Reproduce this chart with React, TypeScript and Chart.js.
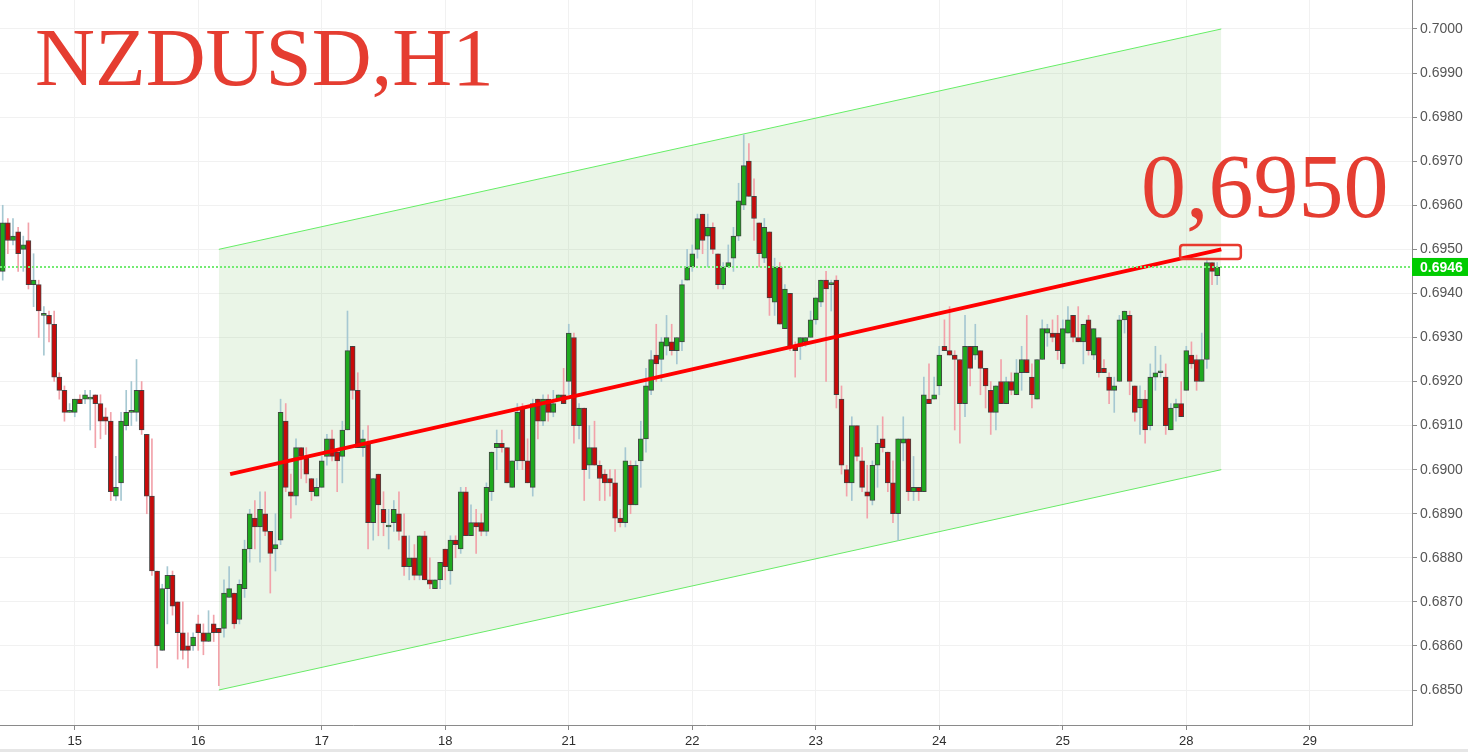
import React, { useEffect, useRef } from 'react';
import { Chart, registerables } from 'chart.js';

Chart.register(...registerables);

// Hourly candles, index 0 = 14th 10:00 (hour positions on the x axis)
const opens = [
  0.6945, 0.6956, 0.6952, 0.6954, 0.6950, 0.6952, 0.6942, 0.6942, 0.6935, 0.6935,
  0.6933, 0.6921, 0.6918, 0.6913, 0.6913, 0.6916, 0.6916, 0.6916, 0.6917, 0.6915,
  0.6912, 0.6911, 0.6894, 0.6897, 0.6910, 0.6913, 0.6913, 0.6918, 0.6908, 0.6894,
  0.6877, 0.6859, 0.6873, 0.6876, 0.6870, 0.6863, 0.6860, 0.6860, 0.6865, 0.6863,
  0.6861, 0.6865, 0.6864, 0.6864, 0.6871, 0.6872, 0.6866, 0.6873, 0.6882, 0.6889,
  0.6887, 0.6890, 0.6886, 0.6882, 0.6884, 0.6911, 0.6895, 0.6894, 0.6905, 0.6903,
  0.6898, 0.6894, 0.6896, 0.6903, 0.6907, 0.6904, 0.6903, 0.6909, 0.6928, 0.6918,
  0.6905, 0.6906, 0.6888, 0.6899, 0.6891, 0.6887, 0.6888, 0.6890, 0.6885, 0.6878,
  0.6880, 0.6876, 0.6885, 0.6875, 0.6873, 0.6875, 0.6882, 0.6877, 0.6884, 0.6882,
  0.6895, 0.6885, 0.6888, 0.6888, 0.6886, 0.6895, 0.6905, 0.6906, 0.6905, 0.6896,
  0.6902, 0.6914, 0.6902, 0.6896, 0.6916, 0.6911, 0.6916, 0.6913, 0.6916, 0.6917,
  0.6920, 0.6930, 0.6910, 0.6914, 0.6901, 0.6905, 0.6901, 0.6899, 0.6898, 0.6897,
  0.6889, 0.6888, 0.6901, 0.6892, 0.6902, 0.6907, 0.6918, 0.6926, 0.6925, 0.6928,
  0.6929, 0.6927, 0.6929, 0.6943, 0.6946, 0.6950, 0.6958, 0.6953, 0.6955, 0.6949,
  0.6942, 0.6946, 0.6948, 0.6953, 0.6960, 0.6970, 0.6962, 0.6956, 0.6948, 0.6954,
  0.6938, 0.6946, 0.6932, 0.6940, 0.6928, 0.6928, 0.6929, 0.6930, 0.6934, 0.6938,
  0.6943, 0.6942, 0.6943, 0.6916, 0.6900, 0.6897, 0.6910, 0.6902, 0.6895, 0.6893,
  0.6901, 0.6907, 0.6904, 0.6897, 0.6890, 0.6906, 0.6907, 0.6895, 0.6896, 0.6895,
  0.6916, 0.6916, 0.6919, 0.6928, 0.6927, 0.6926, 0.6925, 0.6915, 0.6928, 0.6926,
  0.6927, 0.6923, 0.6918, 0.6913, 0.6920, 0.6915, 0.6920, 0.6917, 0.6922, 0.6925,
  0.6921, 0.6916, 0.6925, 0.6931, 0.6931, 0.6931, 0.6924, 0.6931, 0.6935, 0.6930,
  0.6929, 0.6934, 0.6926, 0.6930, 0.6923, 0.6921, 0.6918, 0.6920, 0.6934, 0.6935,
  0.6919, 0.6914, 0.6916, 0.6910, 0.6921, 0.6922, 0.6921, 0.6909, 0.6914, 0.6915,
  0.6918, 0.6926, 0.6925, 0.6920, 0.6925, 0.6947, 0.6944,
];
const highs = [
  0.6960, 0.6957, 0.6957, 0.6955, 0.6953, 0.6956, 0.6949, 0.6943, 0.6937, 0.6936,
  0.6936, 0.6922, 0.6919, 0.6915, 0.6916, 0.6917, 0.6918, 0.6918, 0.6917, 0.6917,
  0.6914, 0.6913, 0.6903, 0.6913, 0.6918, 0.6920, 0.6925, 0.6920, 0.6908, 0.6907,
  0.6877, 0.6874, 0.6878, 0.6877, 0.6870, 0.6870, 0.6863, 0.6863, 0.6867, 0.6865,
  0.6868, 0.6867, 0.6864, 0.6875, 0.6878, 0.6872, 0.6875, 0.6884, 0.6891, 0.6893,
  0.6895, 0.6895, 0.6886, 0.6890, 0.6916, 0.6915, 0.6899, 0.6907, 0.6905, 0.6905,
  0.6898, 0.6898, 0.6903, 0.6908, 0.6909, 0.6904, 0.6911, 0.6936, 0.6928, 0.6922,
  0.6909, 0.6910, 0.6898, 0.6899, 0.6895, 0.6891, 0.6893, 0.6895, 0.6890, 0.6885,
  0.6883, 0.6885, 0.6886, 0.6880, 0.6875, 0.6879, 0.6882, 0.6885, 0.6885, 0.6896,
  0.6896, 0.6892, 0.6891, 0.6890, 0.6897, 0.6904, 0.6909, 0.6909, 0.6905, 0.6902,
  0.6915, 0.6915, 0.6907, 0.6916, 0.6916, 0.6917, 0.6917, 0.6918, 0.6917, 0.6923,
  0.6933, 0.6931, 0.6915, 0.6914, 0.6910, 0.6911, 0.6902, 0.6900, 0.6900, 0.6900,
  0.6891, 0.6905, 0.6902, 0.6902, 0.6911, 0.6923, 0.6927, 0.6933, 0.6930, 0.6935,
  0.6933, 0.6930, 0.6943, 0.6950, 0.6951, 0.6958, 0.6958, 0.6958, 0.6956, 0.6949,
  0.6947, 0.6951, 0.6955, 0.6965, 0.6976, 0.6974, 0.6966, 0.6956, 0.6957, 0.6954,
  0.6948, 0.6947, 0.6942, 0.6940, 0.6929, 0.6930, 0.6930, 0.6936, 0.6939, 0.6943,
  0.6945, 0.6943, 0.6944, 0.6919, 0.6901, 0.6912, 0.6910, 0.6905, 0.6901, 0.6902,
  0.6910, 0.6912, 0.6904, 0.6902, 0.6907, 0.6912, 0.6907, 0.6903, 0.6896, 0.6921,
  0.6924, 0.6921, 0.6928, 0.6934, 0.6937, 0.6927, 0.6925, 0.6935, 0.6928, 0.6933,
  0.6927, 0.6923, 0.6920, 0.6919, 0.6925, 0.6921, 0.6922, 0.6925, 0.6928, 0.6935,
  0.6924, 0.6925, 0.6934, 0.6933, 0.6934, 0.6935, 0.6934, 0.6937, 0.6935, 0.6937,
  0.6933, 0.6935, 0.6932, 0.6930, 0.6925, 0.6922, 0.6921, 0.6935, 0.6936, 0.6936,
  0.6919, 0.6919, 0.6918, 0.6924, 0.6928, 0.6926, 0.6924, 0.6915, 0.6916, 0.6920,
  0.6928, 0.6929, 0.6926, 0.6931, 0.6948, 0.6947, 0.6947,
];
const lows = [
  0.6943, 0.6949, 0.6951, 0.6945, 0.6945, 0.6941, 0.6937, 0.6930, 0.6926, 0.6929,
  0.6920, 0.6916, 0.6911, 0.6913, 0.6912, 0.6915, 0.6915, 0.6909, 0.6905, 0.6907,
  0.6908, 0.6893, 0.6893, 0.6893, 0.6909, 0.6910, 0.6911, 0.6908, 0.6890, 0.6876,
  0.6855, 0.6859, 0.6865, 0.6867, 0.6857, 0.6857, 0.6855, 0.6859, 0.6859, 0.6858,
  0.6861, 0.6861, 0.6851, 0.6862, 0.6871, 0.6864, 0.6865, 0.6871, 0.6879, 0.6882,
  0.6879, 0.6885, 0.6872, 0.6877, 0.6883, 0.6895, 0.6889, 0.6892, 0.6898, 0.6897,
  0.6893, 0.6894, 0.6896, 0.6901, 0.6902, 0.6895, 0.6897, 0.6909, 0.6916, 0.6905,
  0.6903, 0.6882, 0.6884, 0.6885, 0.6885, 0.6882, 0.6886, 0.6884, 0.6876, 0.6875,
  0.6875, 0.6875, 0.6875, 0.6873, 0.6873, 0.6873, 0.6875, 0.6874, 0.6880, 0.6881,
  0.6885, 0.6885, 0.6881, 0.6885, 0.6885, 0.6893, 0.6900, 0.6904, 0.6897, 0.6896,
  0.6900, 0.6900, 0.6897, 0.6894, 0.6907, 0.6910, 0.6911, 0.6912, 0.6916, 0.6915,
  0.6917, 0.6906, 0.6907, 0.6893, 0.6898, 0.6901, 0.6893, 0.6893, 0.6894, 0.6886,
  0.6887, 0.6887, 0.6890, 0.6892, 0.6896, 0.6904, 0.6917, 0.6920, 0.6920, 0.6926,
  0.6926, 0.6924, 0.6927, 0.6943, 0.6945, 0.6948, 0.6949, 0.6946, 0.6949, 0.6941,
  0.6941, 0.6946, 0.6945, 0.6952, 0.6959, 0.6962, 0.6952, 0.6946, 0.6947, 0.6935,
  0.6935, 0.6933, 0.6932, 0.6927, 0.6921, 0.6925, 0.6928, 0.6930, 0.6933, 0.6937,
  0.6920, 0.6936, 0.6914, 0.6899, 0.6894, 0.6893, 0.6902, 0.6895, 0.6889, 0.6892,
  0.6896, 0.6904, 0.6895, 0.6888, 0.6884, 0.6902, 0.6893, 0.6893, 0.6893, 0.6895,
  0.6915, 0.6916, 0.6917, 0.6927, 0.6926, 0.6909, 0.6906, 0.6912, 0.6919, 0.6925,
  0.6917, 0.6914, 0.6908, 0.6909, 0.6915, 0.6915, 0.6917, 0.6917, 0.6918, 0.6922,
  0.6914, 0.6916, 0.6925, 0.6928, 0.6929, 0.6925, 0.6923, 0.6931, 0.6929, 0.6929,
  0.6924, 0.6926, 0.6925, 0.6921, 0.6922, 0.6915, 0.6913, 0.6920, 0.6931, 0.6917,
  0.6911, 0.6908, 0.6906, 0.6909, 0.6918, 0.6921, 0.6908, 0.6909, 0.6911, 0.6912,
  0.6918, 0.6923, 0.6918, 0.6920, 0.6923, 0.6942, 0.6942,
];
const closes = [
  0.6956, 0.6952, 0.6953, 0.6949, 0.6951, 0.6942, 0.6943, 0.6936, 0.6935, 0.6933,
  0.6921, 0.6918, 0.6913, 0.6913, 0.6916, 0.6915, 0.6917, 0.6916, 0.6915, 0.6911,
  0.6911, 0.6895, 0.6896, 0.6911, 0.6913, 0.6913, 0.6918, 0.6909, 0.6894, 0.6877,
  0.6860, 0.6873, 0.6876, 0.6869, 0.6863, 0.6859, 0.6859, 0.6862, 0.6863, 0.6861,
  0.6863, 0.6863, 0.6863, 0.6872, 0.6873, 0.6865, 0.6874, 0.6882, 0.6890, 0.6887,
  0.6891, 0.6886, 0.6881, 0.6883, 0.6913, 0.6896, 0.6894, 0.6905, 0.6903, 0.6899,
  0.6895, 0.6896, 0.6902, 0.6907, 0.6903, 0.6902, 0.6909, 0.6927, 0.6918, 0.6905,
  0.6907, 0.6888, 0.6898, 0.6892, 0.6888, 0.6887, 0.6891, 0.6886, 0.6878, 0.6880,
  0.6876, 0.6885, 0.6875, 0.6874, 0.6875, 0.6879, 0.6878, 0.6884, 0.6883, 0.6895,
  0.6885, 0.6888, 0.6887, 0.6886, 0.6896, 0.6904, 0.6906, 0.6905, 0.6897, 0.6902,
  0.6913, 0.6902, 0.6897, 0.6915, 0.6911, 0.6916, 0.6913, 0.6915, 0.6917, 0.6915,
  0.6931, 0.6910, 0.6914, 0.6900, 0.6905, 0.6901, 0.6898, 0.6897, 0.6897, 0.6889,
  0.6888, 0.6902, 0.6892, 0.6901, 0.6907, 0.6919, 0.6925, 0.6924, 0.6929, 0.6930,
  0.6927, 0.6930, 0.6942, 0.6946, 0.6949, 0.6957, 0.6952, 0.6955, 0.6950, 0.6942,
  0.6946, 0.6947, 0.6953, 0.6961, 0.6969, 0.6962, 0.6957, 0.6949, 0.6955, 0.6939,
  0.6946, 0.6933, 0.6941, 0.6928, 0.6927, 0.6930, 0.6930, 0.6934, 0.6939, 0.6943,
  0.6941, 0.6942, 0.6917, 0.6901, 0.6897, 0.6910, 0.6903, 0.6896, 0.6894, 0.6901,
  0.6906, 0.6905, 0.6897, 0.6890, 0.6907, 0.6907, 0.6895, 0.6896, 0.6895, 0.6917,
  0.6915, 0.6917, 0.6926, 0.6927, 0.6926, 0.6925, 0.6915, 0.6928, 0.6923, 0.6928,
  0.6923, 0.6919, 0.6913, 0.6919, 0.6915, 0.6920, 0.6918, 0.6922, 0.6925, 0.6922,
  0.6917, 0.6925, 0.6932, 0.6932, 0.6930, 0.6927, 0.6932, 0.6934, 0.6930, 0.6929,
  0.6933, 0.6927, 0.6932, 0.6922, 0.6922, 0.6918, 0.6919, 0.6934, 0.6936, 0.6920,
  0.6913, 0.6916, 0.6909, 0.6921, 0.6922, 0.6922, 0.6910, 0.6914, 0.6915, 0.6912,
  0.6927, 0.6924, 0.6920, 0.6925, 0.6947, 0.6945, 0.6946,
];

// x axis: day labels placed at midnight hour index
const dayTickIndex = [14, 38, 62, 86, 110, 134, 158, 182, 206, 230, 254];
const dayTickLabels = ['15', '16', '17', '18', '21', '22', '23', '24', '25', '28', '29'];
const priceTicks = [
  0.685, 0.686, 0.687, 0.688, 0.689, 0.690, 0.691, 0.692,
  0.693, 0.694, 0.695, 0.696, 0.697, 0.698, 0.699, 0.700,
];

// ascending channel and its mid line
const channelX = [42, 236.8];
const channelUpper = [0.695, 0.7];
const channelLower = [0.685, 0.69];
const midX = [44.2, 236.8];
const midY = [0.6899, 0.695];
const lastPrice = 0.6946;
const targetBoxX = [228.8, 240.6];
const targetBoxY = [0.69478, 0.6951];

const X_MIN = -0.525;
const X_MAX = 273.86;
const Y_MIN = 0.684206;
const Y_MAX = 0.700658;

const GREEN_BODY = '#1eaa1e';
const RED_BODY = '#c80a0a';
const GREEN_WICK = '#a6c8d2';
const RED_WICK = '#f2a2aa';
const TITLE_RED = '#e53d31';

const overlayPlugin = {
  id: 'overlay',
  afterDatasetsDraw(chart: any) {
    const { ctx, chartArea, scales } = chart;
    const xs = scales.x;
    const ys = scales.y;
    // dotted last price line
    const py = Math.round(ys.getPixelForValue(lastPrice));
    ctx.save();
    ctx.strokeStyle = '#72ec72';
    ctx.lineWidth = 2;
    ctx.setLineDash([2, 2]);
    ctx.beginPath();
    ctx.moveTo(chartArea.left, py);
    ctx.lineTo(chartArea.right, py);
    ctx.stroke();
    ctx.restore();
    // target rectangle
    const x1 = xs.getPixelForValue(targetBoxX[0]);
    const x2 = xs.getPixelForValue(targetBoxX[1]);
    const y1 = ys.getPixelForValue(targetBoxY[1]);
    const y2 = ys.getPixelForValue(targetBoxY[0]);
    ctx.save();
    ctx.strokeStyle = '#e8392e';
    ctx.lineWidth = 2.5;
    ctx.beginPath();
    const r = 3;
    ctx.moveTo(x1 + r, y1);
    ctx.lineTo(x2 - r, y1);
    ctx.quadraticCurveTo(x2, y1, x2, y1 + r);
    ctx.lineTo(x2, y2 - r);
    ctx.quadraticCurveTo(x2, y2, x2 - r, y2);
    ctx.lineTo(x1 + r, y2);
    ctx.quadraticCurveTo(x1, y2, x1, y2 - r);
    ctx.lineTo(x1, y1 + r);
    ctx.quadraticCurveTo(x1, y1, x1 + r, y1);
    ctx.stroke();
    ctx.restore();
  },
  afterDraw(chart: any) {
    const { ctx, chartArea, scales } = chart;
    const ys = scales.y;
    const py = ys.getPixelForValue(lastPrice);
    ctx.save();
    ctx.fillStyle = '#00cc00';
    ctx.fillRect(chartArea.right, py - 9, chart.width - chartArea.right, 18);
    ctx.fillStyle = '#ffffff';
    ctx.font = 'bold 14px "Liberation Sans", Arial, sans-serif';
    ctx.textBaseline = 'middle';
    ctx.textAlign = 'left';
    ctx.fillText(lastPrice.toFixed(4), chartArea.right + 8, py + 1);
    ctx.restore();
  },
};

export default function App() {
  const canvasRef = useRef<HTMLCanvasElement | null>(null);

  useEffect(() => {
    document.body.style.margin = '0';
    const canvas = canvasRef.current;
    if (!canvas) return;
    Chart.defaults.font.family = '"Liberation Sans", Arial, sans-serif';

    const idx = closes.map((_, i) => i);
    const up = idx.map((i) => closes[i] >= opens[i]);

    const chart = new Chart(canvas, {
      type: 'bar',
      data: {
        datasets: [
          {
            type: 'line',
            label: 'mid',
            data: midX.map((x, i) => ({ x, y: midY[i] })),
            borderColor: '#ff0000',
            borderWidth: 4,
            pointRadius: 0,
            fill: false,
            order: 0,
          } as any,
          {
            type: 'bar',
            label: 'bodies',
            data: idx.map((i) => ({ x: i, y: [opens[i], closes[i]] })),
            backgroundColor: idx.map((i) => (up[i] ? GREEN_BODY : RED_BODY)),
            borderColor: 'rgba(40,40,40,0.85)',
            borderWidth: 1,
            borderSkipped: false,
            barThickness: 5,
            minBarLength: 2,
            grouped: false,
            order: 1,
          } as any,
          {
            type: 'bar',
            label: 'wicks',
            data: idx.map((i) => ({ x: i, y: [lows[i], highs[i]] })),
            backgroundColor: idx.map((i) => (up[i] ? GREEN_WICK : RED_WICK)),
            borderWidth: 0,
            barThickness: 1,
            grouped: false,
            order: 2,
          } as any,
          {
            type: 'line',
            label: 'upper',
            data: channelX.map((x, i) => ({ x, y: channelUpper[i] })),
            borderColor: '#66ee66',
            borderWidth: 1,
            pointRadius: 0,
            fill: '+1',
            backgroundColor: 'rgba(140,200,120,0.18)',
            order: 3,
          } as any,
          {
            type: 'line',
            label: 'lower',
            data: channelX.map((x, i) => ({ x, y: channelLower[i] })),
            borderColor: '#66ee66',
            borderWidth: 1,
            pointRadius: 0,
            fill: false,
            order: 4,
          } as any,
        ],
      },
      options: {
        responsive: false,
        maintainAspectRatio: false,
        animation: false,
        layout: { padding: 0 },
        plugins: {
          legend: { display: false },
          tooltip: { enabled: false },
          title: { display: false },
        },
        scales: {
          x: {
            type: 'linear',
            min: X_MIN,
            max: X_MAX,
            offset: false,
            grid: { color: '#f1f1f1', tickColor: '#888888', tickLength: 5, offset: false },
            border: { color: '#8a8a8a', width: 1 },
            ticks: {
              autoSkip: false,
              maxRotation: 0,
              color: '#2e2e2e',
              padding: 4,
              font: { size: 13 },
              callback: (v: any) => {
                const j = dayTickIndex.indexOf(Number(v));
                return j >= 0 ? dayTickLabels[j] : '';
              },
            },
            afterBuildTicks: (s: any) => {
              s.ticks = dayTickIndex.map((v) => ({ value: v }));
            },
            afterFit: (s: any) => {
              s.height = 24;
              s.paddingLeft = 0;
              s.paddingRight = 0;
              s.paddingTop = 0;
              s.paddingBottom = 0;
            },
          },
          y: {
            type: 'linear',
            position: 'right',
            min: Y_MIN,
            max: Y_MAX,
            beginAtZero: false,
            grid: { color: '#f1f1f1', tickColor: '#888888', tickLength: 5 },
            border: { color: '#8a8a8a', width: 1 },
            ticks: {
              color: '#555555',
              padding: 3,
              font: { size: 14 },
              callback: (v: any) => Number(v).toFixed(4),
            },
            afterBuildTicks: (s: any) => {
              s.ticks = priceTicks.map((v) => ({ value: v }));
            },
            afterFit: (s: any) => {
              s.width = 56;
              s.paddingTop = 0;
              s.paddingBottom = 0;
              s.paddingLeft = 0;
              s.paddingRight = 0;
            },
          },
        },
      } as any,
      plugins: [overlayPlugin],
    });

    return () => {
      chart.destroy();
    };
  }, []);

  return (
    <div style={{ position: 'absolute', left: 0, top: 0, width: 1468, height: 752, background: '#ffffff', overflow: 'hidden' }}>
      <canvas ref={canvasRef} width={1468} height={749} style={{ display: 'block', width: 1468, height: 749 }} />
      <div style={{ position: 'absolute', left: 0, top: 749, width: 1468, height: 3, background: '#e6e6e6' }} />
      <div
        style={{
          position: 'absolute',
          left: 35,
          top: 16,
          fontFamily: '"Liberation Serif", "Times New Roman", serif',
          fontSize: 83,
          lineHeight: '83px',
          color: TITLE_RED,
          whiteSpace: 'nowrap',
        }}
      >
        NZDUSD,H1
      </div>
      <div
        style={{
          position: 'absolute',
          left: 1141,
          top: 142,
          fontFamily: '"Liberation Serif", "Times New Roman", serif',
          fontSize: 90,
          lineHeight: '90px',
          color: TITLE_RED,
          whiteSpace: 'nowrap',
        }}
      >
        0,6950
      </div>
    </div>
  );
}
